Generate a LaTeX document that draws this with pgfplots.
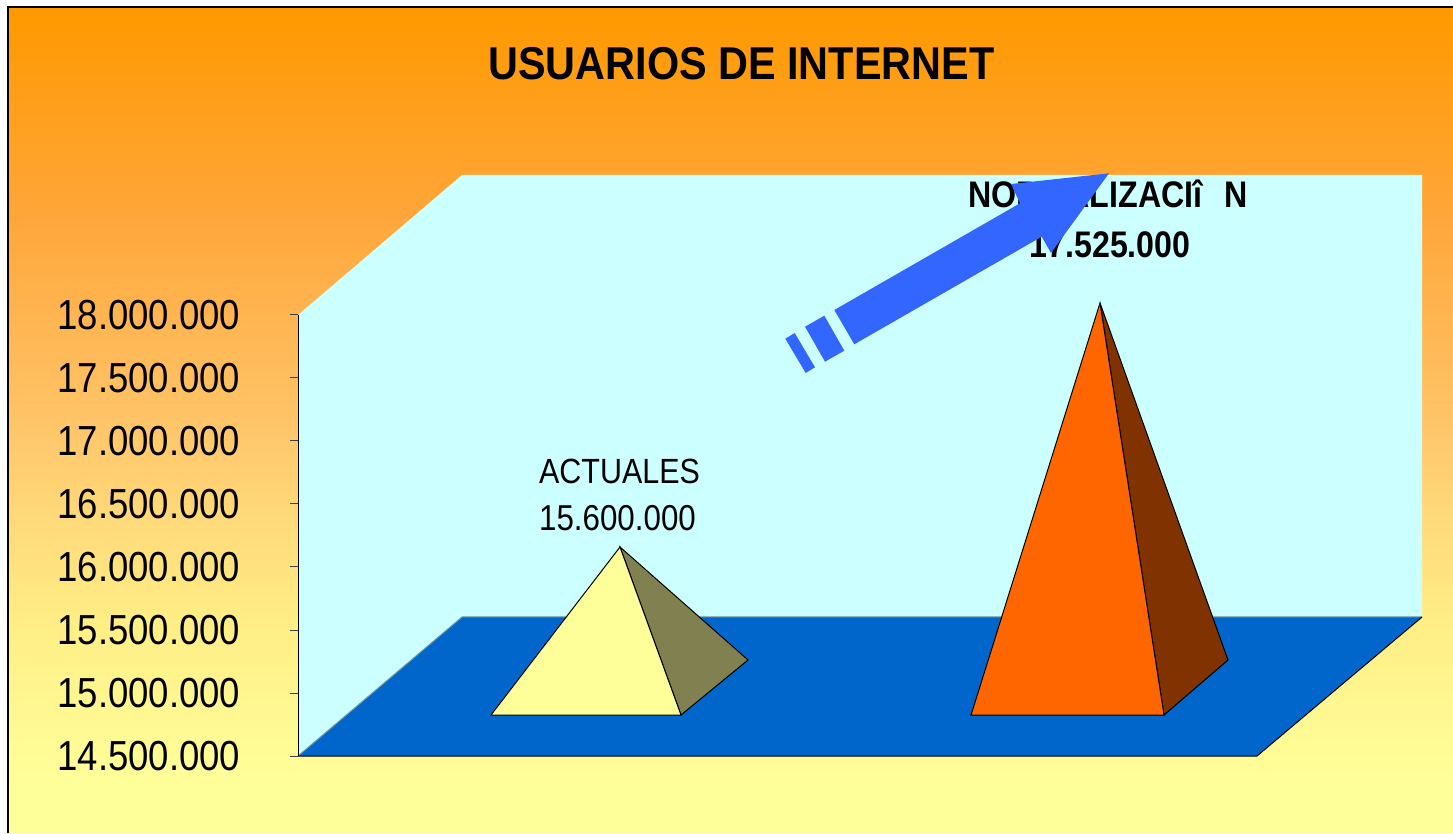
\documentclass[border=0pt]{standalone}
\usepackage{fontspec}
\setmainfont{Liberation Sans}
\newfontfamily\cfont[FakeStretch=0.87]{Liberation Sans}
\newfontfamily\tfont[FakeStretch=0.9]{Liberation Sans}
\usepackage{pgfplots}
\pgfplotsset{compat=1.18}
\definecolor{wall}{HTML}{CCFFFF}
\definecolor{floorc}{HTML}{0066CC}
\definecolor{bgA}{HTML}{FF9900}
\definecolor{bgB}{HTML}{FFA63A}
\definecolor{bgC}{HTML}{FFC468}
\definecolor{bgD}{HTML}{FFDA7A}
\definecolor{bgE}{HTML}{FFEE86}
\definecolor{bgF}{HTML}{FFFC96}
\definecolor{bgG}{HTML}{FFFF99}
\definecolor{pyrAf}{HTML}{FFFF99}
\definecolor{pyrAs}{HTML}{808050}
\definecolor{pyrBf}{HTML}{FF6600}
\definecolor{pyrBs}{HTML}{803300}
\definecolor{arrowc}{HTML}{3366FF}
\begin{document}
\begin{tikzpicture}[x=1pt,y=1pt]
\useasboundingbox (0pt,0pt) rectangle (1453pt,833pt);
\fill[white] (0pt,0pt) rectangle (1453pt,833pt);
\begin{axis}[
  at={(0pt,0pt)},anchor=south west,
  scale only axis,width=1453pt,height=833pt,
  xmin=0,xmax=1453,ymin=13.8889,ymax=20.5,
  axis lines=none,
]
% background
\fill[bgG] (axis cs:8,14.24) rectangle (axis cs:1453,13.8889);
\fill[top color=bgF,bottom color=bgG,draw=none] (axis cs:8,14.5476) rectangle (axis cs:1453,14.2302);
\fill[top color=bgE,bottom color=bgF,draw=none] (axis cs:8,15.5397) rectangle (axis cs:1453,14.5426);
\fill[top color=bgD,bottom color=bgE,draw=none] (axis cs:8,16.3730) rectangle (axis cs:1453,15.5347);
\fill[top color=bgC,bottom color=bgD,draw=none] (axis cs:8,17.1667) rectangle (axis cs:1453,16.3680);
\fill[top color=bgB,bottom color=bgC,draw=none] (axis cs:8,18.7937) rectangle (axis cs:1453,17.1617);
\fill[top color=bgA,bottom color=bgB,draw=none] (axis cs:8,20.4444) rectangle (axis cs:1453,18.7887);
\draw[black,line width=1.2pt] (axis cs:8,13.8889) -- (axis cs:8,20.4444) -- (axis cs:1453,20.4444);
% back wall
\addplot[fill=wall,draw=none,mark=none] coordinates {(298,18.0) (462,19.1111) (1422,19.1111) (1422,15.6032) (462,15.6032) (298,14.5)} -- cycle;
% floor
\addplot[fill=floorc,draw=none,mark=none] coordinates {(298,14.5) (462,15.6032) (1422,15.6032) (1257,14.5)} -- cycle;
\addplot[color=black!40!wall,line width=1pt,mark=none] coordinates {(298,14.5) (462,15.6032) (1422,15.6032)};
\addplot[color=black,line width=1pt,mark=none] coordinates {(298,14.5) (1257,14.5) (1422,15.6032)};
% pyramid ACTUALES 15.600.000
\addplot[fill=pyrAs,draw=black,line width=1pt,mark=none] coordinates {(681,14.8254) (748,15.2619) (620,16.1587)} -- cycle;
\addplot[fill=pyrAf,draw=black,line width=1pt,mark=none] coordinates {(491,14.8254) (681,14.8254) (620,16.1587)} -- cycle;
% pyramid NORMALIZACION 17.525.000
\addplot[fill=pyrBs,draw=black,line width=1pt,mark=none] coordinates {(1164,14.8254) (1228,15.2619) (1100,18.0952)} -- cycle;
\addplot[fill=pyrBf,draw=black,line width=1pt,mark=none] coordinates {(971,14.8254) (1164,14.8254) (1100,18.0952)} -- cycle;
% texts
\node[font=\tfont\bfseries\fontsize{46}{50}\selectfont,anchor=center] at (axis cs:741.5,19.9921) {USUARIOS DE INTERNET};
\node[font=\cfont\bfseries\fontsize{37}{40}\selectfont,anchor=center] at (axis cs:1108,18.9604) {NORMALIZACIî\hspace{13pt} N};
\node[font=\cfont\bfseries\fontsize{37}{40}\selectfont,anchor=center] at (axis cs:1110,18.5556) {17.525.000};
\node[font=\cfont\fontsize{35}{40}\selectfont,anchor=center] at (axis cs:619.5,16.7619) {ACTUALES};
\node[font=\cfont\fontsize{36}{40}\selectfont,anchor=center] at (axis cs:617.5,16.3889) {15.600.000};
% arrow
\addplot[fill=arrowc,draw=none,mark=none] coordinates {(834.3,18.0397) (1020,18.8865) (1011,19.0397) (1109,19.1246) (1051,18.4921) (1041.7,18.6214) (854.3,17.7675)} -- cycle;
\addplot[fill=arrowc,draw=none,mark=none] coordinates {(805,17.9071) (824.3,17.9944) (844.3,17.7167) (825,17.6294)} -- cycle;
\addplot[fill=arrowc,draw=none,mark=none] coordinates {(785.3,17.8119) (794.7,17.8571) (815,17.5849) (805.7,17.5397)} -- cycle;
\end{axis}
\begin{axis}[
  at={(298pt,77pt)},anchor=south west,
  scale only axis,width=959pt,height=441pt,
  xmin=0,xmax=1,ymin=14.5,ymax=18,
  axis x line=none,axis y line=left,
  axis line style={-,black,line width=1pt},
  ytick={14.5,15,15.5,16,16.5,17,17.5,18},
  yticklabels={14.500.000,15.000.000,15.500.000,16.000.000,16.500.000,17.000.000,17.500.000,18.000.000},
  tick align=outside,
  major tick length=8pt,
  tick style={black!75,line width=1pt},
  yticklabel style={font=\cfont\fontsize{42}{46}\selectfont,anchor=east,xshift=-49.5pt,inner sep=0pt},
]
\end{axis}
\end{tikzpicture}
\end{document}
